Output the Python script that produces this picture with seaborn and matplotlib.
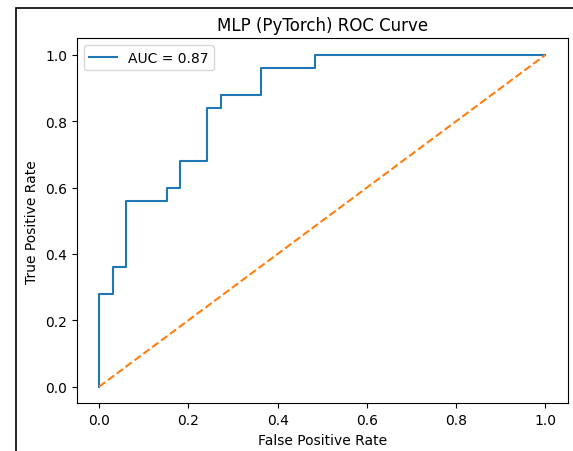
import numpy as np
import pandas as pd
import matplotlib
matplotlib.use("Agg")
import matplotlib.pyplot as plt
import seaborn as sns
from matplotlib.patches import Rectangle

# ROC corner points (33 negatives, 25 positives)
fpr = [0, 0, 1/33, 1/33, 2/33, 2/33, 5/33, 5/33, 6/33, 6/33, 8/33, 8/33,
       9/33, 9/33, 12/33, 12/33, 16/33, 16/33, 1.0]
tpr = [0, 0.28, 0.28, 0.36, 0.36, 0.56, 0.56, 0.60, 0.60, 0.68, 0.68, 0.84,
       0.84, 0.88, 0.88, 0.96, 0.96, 1.0, 1.0]
auc_label = "AUC = 0.87"
diag = [0, 1]

df = pd.DataFrame({"fpr": fpr, "tpr": tpr, "order": np.arange(len(fpr))})

fig = plt.figure(figsize=(5.73, 4.52), dpi=100)
ax = fig.add_axes([0.1339, 0.1055, 0.8569, 0.8076])

sns.lineplot(data=df, x="fpr", y="tpr", sort=False, estimator=None,
             color="tab:blue", linewidth=1.5, label=auc_label, ax=ax)
sns.lineplot(x=diag, y=diag, color="tab:orange", linestyle="--",
             linewidth=1.5, ax=ax)

ax.set_title("MLP (PyTorch) ROC Curve", fontsize=12)
ax.set_xlabel("False Positive Rate", fontsize=10)
ax.set_ylabel("True Positive Rate", fontsize=10)
ax.tick_params(labelsize=10)
ax.legend(loc="upper left", fontsize=10)

# screenshot frame
fig.patches.append(Rectangle((15.5 / 573, -0.1), 1.2, 1 - 8.5 / 452 + 0.1,
                             transform=fig.transFigure, fill=False,
                             edgecolor="black", linewidth=1.2))

fig.savefig("out.png", dpi=100)
